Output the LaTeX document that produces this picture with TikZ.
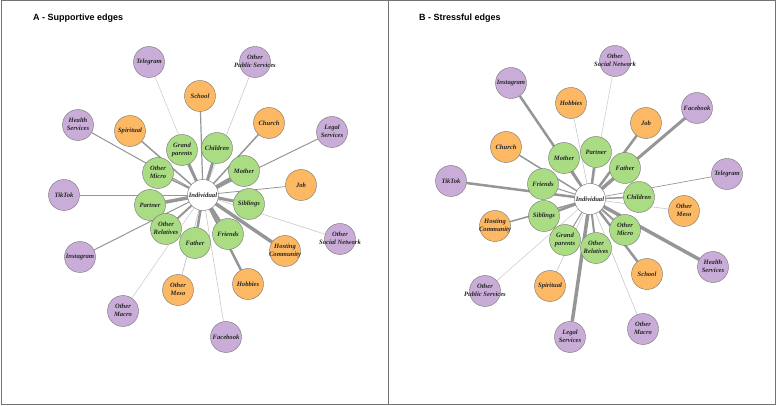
\documentclass[tikz,border=0pt]{standalone}
\usepackage{fontspec}
\setmainfont{Liberation Serif}
\newfontfamily\titlefont{Liberation Sans}
\usetikzlibrary{backgrounds}
\definecolor{gfill}{RGB}{170,220,132}
\definecolor{ofill}{RGB}{253,184,99}
\definecolor{pfill}{RGB}{201,173,216}
\definecolor{edgec}{RGB}{150,150,150}
\definecolor{edgel}{RGB}{200,200,200}
\newcommand{\lbl}{\fontsize{6.6}{7.8}\selectfont\bfseries\itshape}
\newcommand{\twol}[2]{\makebox[0pt]{\begin{tabular}{@{}c@{}}#1\\#2\end{tabular}}}
\tikzset{
 nd/.style={circle, draw=black!55, line width=0.4pt, minimum size=31pt, inner sep=0pt, font=\lbl, text=black!85},
 gr/.style={nd, fill=gfill},
 og/.style={nd, fill=ofill},
 pu/.style={nd, fill=pfill},
 ind/.style={nd, fill=white},
 ed/.style={draw=edgec, line width=#1pt},
 el/.style={draw=edgel, line width=#1pt},
 ttl/.style={font=\titlefont\bfseries\fontsize{9}{10}\selectfont, anchor=base west, inner sep=0pt},
 frame/.style={draw=black!55, line width=1pt}
}
\begin{document}
\begin{tikzpicture}[x=1pt,y=-1pt]
\useasboundingbox (0,0) rectangle (777,406);
\draw[frame] (1,1) rectangle (388,404);
\draw[frame] (388,1) rectangle (775,404);
\node[ttl] (tA) at (33,21) {A - Supportive edges};
\node[ttl] (tB) at (419,21) {B - Stressful edges};

% ---------- Panel A ----------
\node[ind] (AI) at (203,195) {Individual};
\node[pu] (ATel) at (149,62) {Telegram};
\node[pu] (AOPS) at (255,62) {\twol{Other}{Public Services}};
\node[og] (ASch) at (200,96) {School};
\node[og] (ACh) at (269,123) {Church};
\node[pu] (ALeg) at (332,132) {\twol{Legal}{Services}};
\node[pu] (AHea) at (78,125) {\twol{Health}{Services}};
\node[og] (ASpi) at (130,131) {Spiritual};
\node[gr] (AGra) at (182,150) {\twol{Grand}{parents}};
\node[gr] (AChi) at (217,148) {Children};
\node[gr] (AMot) at (244,171) {Mother};
\node[gr] (AOMi) at (158,173) {\twol{Other}{Micro}};
\node[og] (AJob) at (301,185) {Job};
\node[pu] (ATik) at (64,195) {TikTok};
\node[gr] (APar) at (150,205) {Partner};
\node[gr] (ASib) at (249,204) {Siblings};
\node[gr] (AORe) at (166,229) {\twol{Other}{Relatives}};
\node[gr] (AFat) at (195,243) {Father};
\node[gr] (AFri) at (228,234) {Friends};
\node[og] (AHos) at (285,251) {\twol{Hosting}{Community}};
\node[pu] (AOSN) at (340,239) {\twol{Other}{Social Network}};
\node[pu] (AIns) at (80,257) {Instagram};
\node[og] (AOMe) at (178,290) {\twol{Other}{Meso}};
\node[og] (AHob) at (248,284) {Hobbies};
\node[pu] (AOMa) at (123,311) {\twol{Other}{Macro}};
\node[pu] (AFac) at (226,337) {Facebook};

% ---------- Panel B ----------
\node[ind] (BI) at (590,199) {Individual};
\node[pu] (BOSN) at (615,61) {\twol{Other}{Social Network}};
\node[pu] (BIns) at (511,83) {Instagram};
\node[og] (BHob) at (571,103) {Hobbies};
\node[pu] (BFac) at (697,108) {Facebook};
\node[og] (BJob) at (646,123) {Job};
\node[og] (BCh) at (506,147) {Church};
\node[gr] (BMot) at (564,158) {Mother};
\node[gr] (BPar) at (596,152) {Partner};
\node[gr] (BFat) at (625,168) {Father};
\node[pu] (BTel) at (727,174) {Telegram};
\node[pu] (BTik) at (451,181) {TikTok};
\node[gr] (BFri) at (543,184) {Friends};
\node[gr] (BChi) at (639,197) {Children};
\node[og] (BOMe) at (684,211) {\twol{Other}{Meso}};
\node[gr] (BSib) at (544,216) {Siblings};
\node[og] (BHos) at (495,226) {\twol{Hosting}{Community}};
\node[gr] (BOMi) at (625,230) {\twol{Other}{Micro}};
\node[gr] (BGra) at (565,240) {\twol{Grand}{parents}};
\node[gr] (BORe) at (596,248) {\twol{Other}{Relatives}};
\node[pu] (BHea) at (713,267) {\twol{Health}{Services}};
\node[og] (BSch) at (647,274) {School};
\node[og] (BSpi) at (550,286) {Spiritual};
\node[pu] (BOPS) at (485,291) {\twol{Other}{Public Services}};
\node[pu] (BLeg) at (570,337) {\twol{Legal}{Services}};
\node[pu] (BOMa) at (643,329) {\twol{Other}{Macro}};

\begin{scope}[on background layer]
% Panel A edges
\draw[el=0.5] (AI.center) -- (ATel);
\draw[el=0.6] (AI.center) -- (AOPS);
\draw[ed=1.2] (AI.center) -- (ASch);
\draw[ed=1.5] (AI.center) -- (ACh);
\draw[ed=1.0] (AI.center) -- (ALeg);
\draw[ed=1.0] (AI.center) -- (AHea);
\draw[ed=1.5] (AI.center) -- (ASpi);
\draw[ed=3] (AI.center) -- (AGra);
\draw[ed=3] (AI.center) -- (AChi);
\draw[ed=4] (AI.center) -- (AMot);
\draw[ed=1.5] (AI.center) -- (AOMi);
\draw[ed=0.8] (AI.center) -- (AJob);
\draw[ed=0.7] (AI.center) -- (ATik);
\draw[ed=3.5] (AI.center) -- (APar);
\draw[ed=3] (AI.center) -- (ASib);
\draw[ed=2] (AI.center) -- (AORe);
\draw[ed=2.5] (AI.center) -- (AFat);
\draw[ed=3] (AI.center) -- (AFri);
\draw[ed=3.5] (AI.center) -- (AHos);
\draw[el=0.6] (AI.center) -- (AOSN);
\draw[ed=1.0] (AI.center) -- (AIns);
\draw[el=0.8] (AI.center) -- (AOMe);
\draw[ed=2.5] (AI.center) -- (AHob);
\draw[el=0.5] (AI.center) -- (AOMa);
\draw[el=0.6] (AI.center) -- (AFac);
% Panel B edges
\draw[el=0.5] (BI.center) -- (BOSN);
\draw[ed=2.5] (BI.center) -- (BIns);
\draw[el=0.6] (BI.center) -- (BHob);
\draw[ed=3] (BI.center) -- (BFac);
\draw[ed=2.5] (BI.center) -- (BJob);
\draw[ed=1.5] (BI.center) -- (BCh);
\draw[ed=2] (BI.center) -- (BMot);
\draw[ed=2.5] (BI.center) -- (BPar);
\draw[ed=3] (BI.center) -- (BFat);
\draw[ed=0.7] (BI.center) -- (BTel);
\draw[ed=2.5] (BI.center) -- (BTik);
\draw[ed=1.0] (BI.center) -- (BFri);
\draw[ed=1.5] (BI.center) -- (BChi);
\draw[el=0.6] (BI.center) -- (BOMe);
\draw[ed=2.5] (BI.center) -- (BSib);
\draw[ed=1.5] (BI.center) -- (BHos);
\draw[ed=2] (BI.center) -- (BOMi);
\draw[ed=1.0] (BI.center) -- (BGra);
\draw[ed=2] (BI.center) -- (BORe);
\draw[ed=3.5] (BI.center) -- (BHea);
\draw[ed=2.5] (BI.center) -- (BSch);
\draw[el=0.6] (BI.center) -- (BSpi);
\draw[el=0.5] (BI.center) -- (BOPS);
\draw[ed=3.5] (BI.center) -- (BLeg);
\draw[el=0.6] (BI.center) -- (BOMa);
\end{scope}
\end{tikzpicture}
\end{document}
